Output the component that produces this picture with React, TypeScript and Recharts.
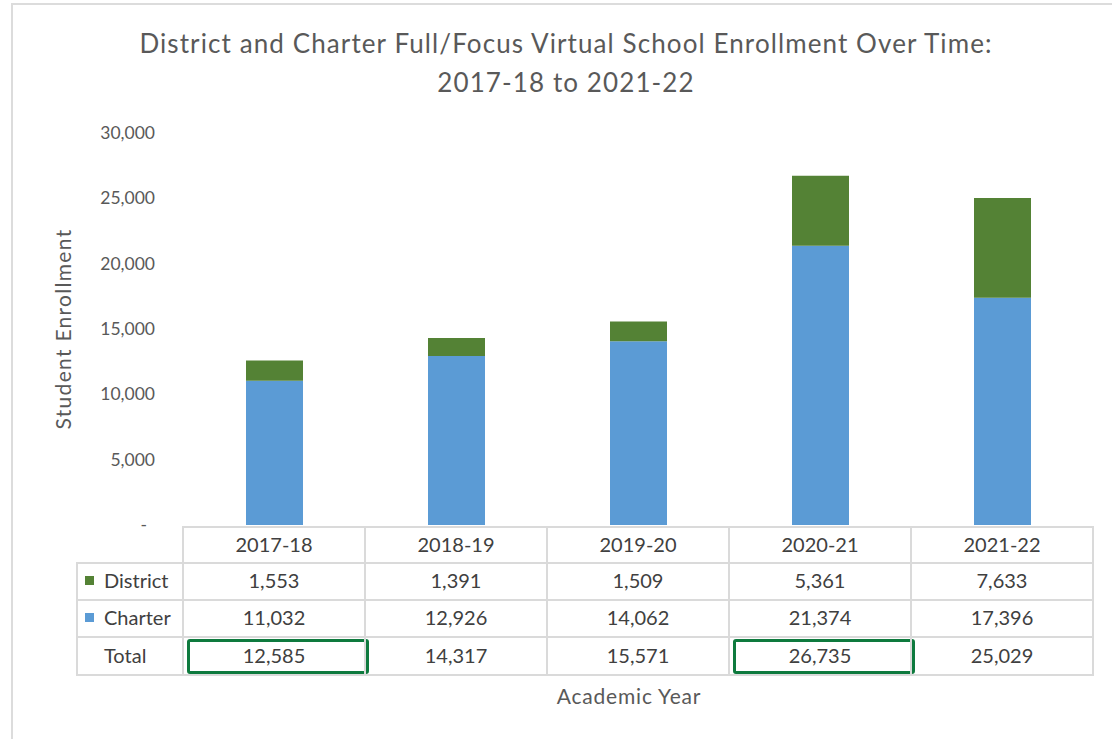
import React from "react";
import { Bar, BarChart, Label, XAxis, YAxis } from "recharts";

const categories = ["2017-18", "2018-19", "2019-20", "2020-21", "2021-22"];
const districtValues = [1553, 1391, 1509, 5361, 7633];
const charterValues = [11032, 12926, 14062, 21374, 17396];
const totalValues = [12585, 14317, 15571, 26735, 25029];
const highlightedYears = ["2017-18", "2020-21"];
const yTicks = [0, 5000, 10000, 15000, 20000, 25000, 30000];

const FONT = "Lato, 'Open Sans', sans-serif";
const TEXT = "#595959";
const GRID = "#dadada";
const BLUE = "#5b9bd5";
const GREEN = "#548235";

const W = 1112;
const H = 739;
const PLOT_LEFT = 183;
const PLOT_RIGHT = 1093;
const PLOT_TOP = 133;
const PLOT_BOTTOM = 525;
const Y_AXIS_W = 80;

const data = categories.map((year, i) => ({
  year,
  district: districtValues[i],
  charter: charterValues[i],
}));

const fmt = (v: number) => (v === 0 ? "-" : v.toLocaleString("en-US"));

function YTick(props: any) {
  const { x, y, payload } = props;
  const isZero = payload.value === 0;
  return (
    <text
      x={isZero ? x - 8 : x}
      y={y}
      dy={6}
      textAnchor="end"
      fill={TEXT}
      fontSize={17.5}
      fontFamily={FONT}
    >
      {fmt(payload.value)}
    </text>
  );
}

function DataTable() {
  const colW = (PLOT_RIGHT - PLOT_LEFT) / categories.length;
  const labelLeft = 77;
  const rowTops = [527, 563, 600, 637, 675];
  const rows = [
    { name: "District", color: GREEN, values: districtValues },
    { name: "Charter", color: BLUE, values: charterValues },
    { name: "Total", color: null, values: totalValues },
  ];
  const cell = (left: number, top: number, w: number, h: number): React.CSSProperties => ({
    position: "absolute",
    left: left - 1,
    top: top - 1,
    width: w + 2,
    height: h + 2,
    boxSizing: "border-box",
    border: `2px solid ${GRID}`,
    paddingBottom: 3,
    display: "flex",
    alignItems: "center",
    justifyContent: "center",
    fontFamily: FONT,
    fontSize: 20,
    color: "#404040",
  });
  const items: React.ReactNode[] = [];
  categories.forEach((c, i) => {
    const x = PLOT_LEFT + i * colW;
    items.push(
      <div key={`h${i}`} style={cell(x, rowTops[0], colW, rowTops[1] - rowTops[0])}>
        {c}
      </div>
    );
  });
  rows.forEach((r, ri) => {
    const top = rowTops[ri + 1];
    const h = rowTops[ri + 2] - top;
    items.push(
      <div
        key={`l${ri}`}
        style={{ ...cell(labelLeft, top, PLOT_LEFT - labelLeft, h), justifyContent: "flex-start", paddingLeft: 7 }}
      >
        <span
          style={{
            display: "inline-block",
            width: 9,
            height: 9,
            marginRight: 10,
            background: r.color ?? "transparent",
          }}
        />
        {r.name}
      </div>
    );
    r.values.forEach((v, i) => {
      const x = PLOT_LEFT + i * colW;
      items.push(
        <div key={`c${ri}-${i}`} style={cell(x, top, colW, h)}>
          {fmt(v)}
        </div>
      );
      if (r.name === "Total" && highlightedYears.includes(categories[i])) {
        items.push(
          <div
            key={`hl${i}`}
            style={{
              position: "absolute",
              left: x + 4,
              top: top + 2,
              width: colW,
              height: h - 3,
              boxSizing: "border-box",
              border: "3px solid #0e7a3e",
              borderRadius: 3,
            }}
          />
        );
      }
    });
  });
  return <>{items}</>;
}

export default function App() {
  return (
    <div style={{ position: "absolute", left: 0, top: 0, width: W, height: H, background: "#fff", overflow: "hidden" }}>
      <div
        style={{
          position: "absolute",
          left: 11,
          top: 3,
          width: W,
          height: H,
          borderLeft: "2px solid #dcdcdc",
          borderTop: "2px solid #dcdcdc",
        }}
      />
      <div
        style={{
          position: "absolute",
          left: 0,
          width: 1132,
          top: 24,
          textAlign: "center",
          fontFamily: FONT,
          fontSize: 26,
          letterSpacing: 1.1,
          lineHeight: "39px",
          color: TEXT,
        }}
      >
        District and Charter Full/Focus Virtual School Enrollment Over Time:
        <br />
        2017-18 to 2021-22
      </div>
      <div style={{ position: "absolute", left: 0, top: 0 }}>
        <BarChart
          width={W}
          height={H}
          data={data}
          barSize={57}
          margin={{
            top: PLOT_TOP,
            right: W - PLOT_RIGHT,
            bottom: H - PLOT_BOTTOM,
            left: PLOT_LEFT - Y_AXIS_W,
          }}
        >
          <XAxis dataKey="year" hide />
          <YAxis
            width={Y_AXIS_W}
            domain={[0, 30000]}
            ticks={yTicks}
            axisLine={false}
            tickLine={false}
            tickSize={0}
            tickMargin={28}
            tick={<YTick />}
          >
            <Label
              content={(props: any) => {
                const vb = props.viewBox;
                const cx = vb.x - 41;
                const cy = vb.y + vb.height / 2;
                return (
                  <text
                    x={cx}
                    y={cy}
                    transform={`rotate(-90, ${cx}, ${cy})`}
                    textAnchor="middle"
                    dominantBaseline="central"
                    fill={TEXT}
                    fontSize={21}
                    letterSpacing={1.3}
                    fontFamily={FONT}
                  >
                    Student Enrollment
                  </text>
                );
              }}
            />
          </YAxis>
          <Bar dataKey="charter" name="Charter" stackId="a" fill={BLUE} isAnimationActive={false} />
          <Bar dataKey="district" name="District" stackId="a" fill={GREEN} isAnimationActive={false} />
        </BarChart>
      </div>
      <DataTable />
      <div
        style={{
          position: "absolute",
          left: PLOT_LEFT,
          width: PLOT_RIGHT - PLOT_LEFT - 18,
          top: 683,
          textAlign: "center",
          fontFamily: FONT,
          fontSize: 21,
          letterSpacing: 0.8,
          color: TEXT,
        }}
      >
        Academic Year
      </div>
    </div>
  );
}
